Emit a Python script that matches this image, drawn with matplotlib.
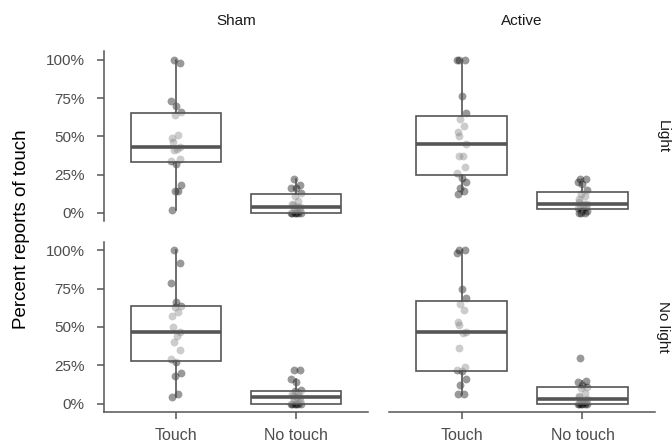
import matplotlib
matplotlib.use("Agg")
import matplotlib.pyplot as plt
import numpy as np

plt.rcParams['font.family'] = ['Liberation Sans', 'DejaVu Sans']

# percent reports of touch, one value per participant
sham_light_touch = [2, 14, 14, 18, 32, 34, 35, 41, 42, 43, 46, 49, 51, 64, 66, 70, 73, 98, 100]
sham_light_notouch = [0, 0, 0, 0, 0, 0, 2, 3, 4, 4, 5, 6, 8, 11, 13, 16, 16, 18, 22]
active_light_touch = [12, 14, 16, 20, 23, 26, 30, 37, 37, 45, 50, 53, 57, 61, 65, 76, 100, 100, 100]
active_light_notouch = [0, 0, 0, 1, 2, 3, 4, 5, 6, 6, 7, 9, 11, 12, 15, 19, 20, 22, 22]
sham_dark_touch = [4, 6, 18, 20, 27, 29, 35, 40, 44, 47, 50, 57, 60, 63, 64, 66, 79, 92, 100]
sham_dark_notouch = [0, 0, 0, 0, 0, 0, 2, 3, 4, 4, 5, 6, 7, 8, 9, 14, 16, 22, 22]
active_dark_touch = [6, 6, 12, 16, 21, 22, 24, 36, 46, 47, 51, 53, 61, 65, 69, 75, 98, 100, 100]
active_dark_notouch = [0, 0, 0, 0, 0, 0, 1, 2, 2, 3, 4, 5, 7, 10, 11, 12, 14, 15, 30]

conditions = ['Touch', 'No touch']
stim = ['Sham', 'Active']
light = ['Light', 'No light']
panels = [[(sham_light_touch, sham_light_notouch), (active_light_touch, active_light_notouch)],
          [(sham_dark_touch, sham_dark_notouch), (active_dark_touch, active_dark_notouch)]]
yticks = [0, 25, 50, 75, 100]

# small fixed horizontal spread for the points
jit = np.array([-0.03, 0.02, -0.01, 0.04, 0.0, -0.04, 0.03, -0.02, 0.01, 0.035, -0.025])

fig = plt.figure(figsize=(6.72, 4.43), dpi=100)
lefts = [104 / 672, 389 / 672]
widths = [264 / 672, 266 / 672]
bottoms = [221.7 / 443, 31 / 443]
h = 170 / 443
edge = '#555555'

for r in range(2):
    for c in range(2):
        ax = fig.add_axes([lefts[c], bottoms[r], widths[c], h])
        groups = panels[r][c]
        for i, vals in enumerate(groups):
            x = i + 1 + np.resize(jit, len(vals))
            ax.scatter(x, vals, s=32, color='black', alpha=0.4, linewidths=0, zorder=1)
        bp = ax.boxplot(groups, positions=[1, 2], widths=0.75, showfliers=False,
                        patch_artist=True, whis=1.5, zorder=2)
        for b in bp['boxes']:
            b.set_facecolor((1, 1, 1, 0.5))
            b.set_edgecolor(edge)
            b.set_linewidth(1.2)
        for w in bp['whiskers']:
            w.set_color(edge)
            w.set_linewidth(1.2)
        for cap in bp['caps']:
            cap.set_visible(False)
        for m in bp['medians']:
            m.set_color(edge)
            m.set_linewidth(2.6)

        ax.set_xlim(0.4, 2.6)
        ax.set_ylim(-5.5, 105.5)
        for s in ['top', 'right']:
            ax.spines[s].set_visible(False)
        for s in ['left', 'bottom']:
            ax.spines[s].set_color(edge)
            ax.spines[s].set_linewidth(1.1)
        ax.tick_params(colors=edge, labelcolor='#4d4d4d', labelsize=11, length=5, width=1.1)
        ax.tick_params(axis='y', pad=9)
        ax.tick_params(axis='x', pad=6.5)

        if c == 0:
            ax.set_yticks(yticks)
            ax.set_yticklabels([f'{v}%' for v in yticks])
        else:
            ax.spines['left'].set_visible(False)
            ax.set_yticks([])
        if r == 1:
            ax.set_xticks([1, 2])
            ax.set_xticklabels(conditions, fontsize=11.5)
        else:
            ax.spines['bottom'].set_visible(False)
            ax.set_xticks([])

        if r == 0:
            ax.set_title(stim[c], fontsize=11, color='#1a1a1a', pad=19)
        if c == 1:
            ax.text(1.003, 0.5, light[r], transform=ax.transAxes, rotation=-90,
                    fontsize=11, color='#1a1a1a', ha='left', va='center')

fig.text(22 / 672, 1 - 229 / 443, 'Percent reports of touch', rotation=90,
         fontsize=13.5, ha='center', va='center')

plt.savefig('out.png', dpi=100)
